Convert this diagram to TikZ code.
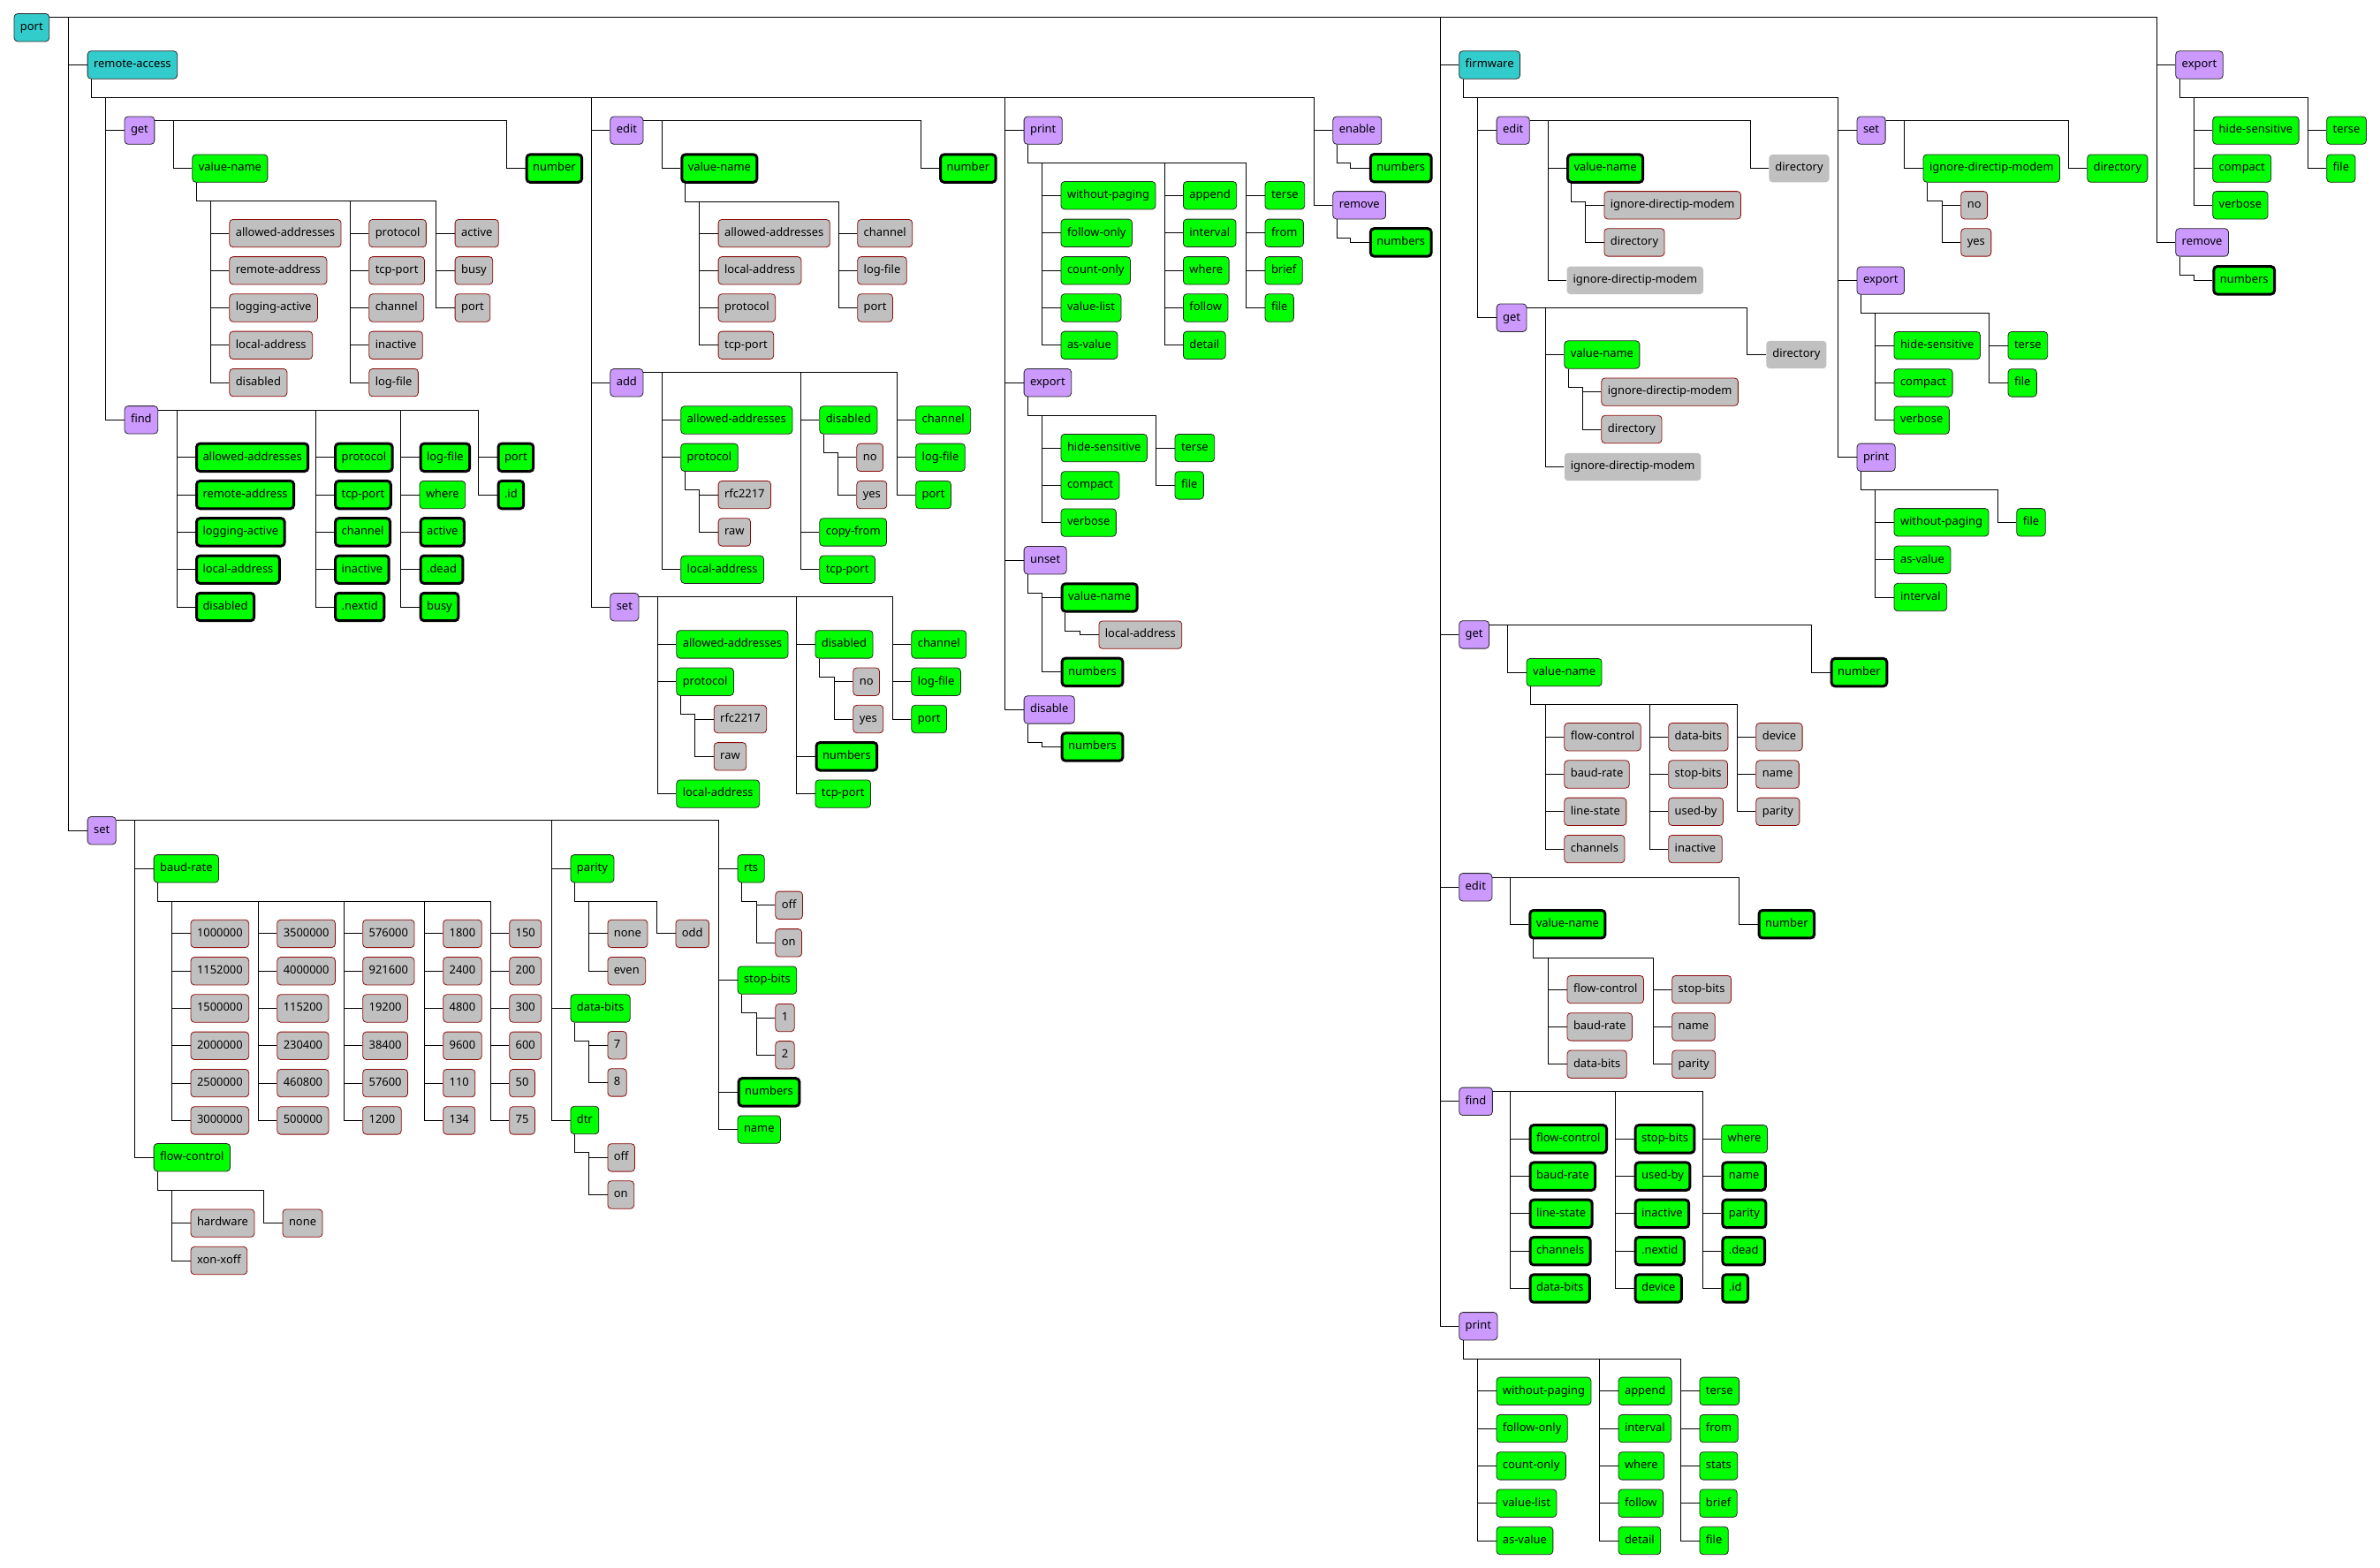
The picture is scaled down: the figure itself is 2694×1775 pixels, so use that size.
\documentclass[tikz,border=0pt]{standalone}
\usepackage{fontspec}
\setmainfont{Noto Sans}
\definecolor{cGrp}{RGB}{51,204,204}
\definecolor{cCmd}{RGB}{204,153,255}
\definecolor{cOpt}{RGB}{0,255,0}
\definecolor{cVal}{RGB}{192,192,192}
\definecolor{cValE}{RGB}{140,10,10}
\tikzset{
  box/.style={draw=black!85,line width=0.8pt,rounded corners=4pt,minimum height=31.4pt,
              inner xsep=7pt,inner ysep=0pt,text height=9.3pt,text depth=2.7pt,anchor=west,
              font=\fontsize{12.9pt}{15pt}\selectfont},
  grp/.style={box,fill=cGrp},
  cmd/.style={box,fill=cCmd},
  opt/.style={box,fill=cOpt},
  optB/.style={opt,draw=black,line width=3pt},
  val/.style={box,fill=cVal,draw=cValE},
  valN/.style={box,fill=cVal,draw=none},% no border
  link/.style={-,black,line width=1pt},
}

\begin{document}
\begin{tikzpicture}[x=1pt,y=-1pt]
  \useasboundingbox (0,0) rectangle (2694,1775);
  \newcommand{\slink}[2]{\draw[link] ([yshift=-4.8pt]#1.north east) -| ([xshift=-21pt]#2.west) -- (#2.west);}
  \newcommand{\dlink}[2]{\draw[link] ([xshift=4.9pt]#1.south west) -- ++(0,20.7) -| ([xshift=-21pt]#2.west) -- (#2.west);}
  \newcommand{\kids}[4]{\foreach \st/\nm/\yy/\tx in {#4}{
      \node[\st] (\nm) at (#3,\yy) {\tx};
      #1{#2}{\nm}}}

  \node[grp] (port) at (15.6,31.2) {port};
  \kids{\slink}{port}{98.7}{grp/ra/73.5/remote-access,cmd/pset/940.2/set}
  \kids{\slink}{port}{1651.3}{grp/fw/73.5/firmware,cmd/pget/718.4/get,cmd/pedit/1004.3/edit,cmd/pfind/1246.8/find,cmd/pprint/1501.3/print}
  \kids{\slink}{port}{2462.3}{cmd/pexp/73.5/export,cmd/prem/274.4/remove}

  % remote-access
  \kids{\dlink}{ra}{140.6}{cmd/raG/147.6/get,cmd/raF/475.3/find}
  \kids{\dlink}{ra}{690.4}{cmd/raE/147.6/edit,cmd/raA/433.2/add,cmd/raS/687.2/set}
  \kids{\dlink}{ra}{1158.7}{cmd/raP/147.6/print,cmd/raX/433.2/export,cmd/raU/634.2/unset,cmd/raD/803.4/disable}
  \kids{\dlink}{ra}{1508.4}{cmd/raN/147.6/enable,cmd/raR/232.3/remove}

  \kids{\slink}{raG}{217.4}{opt/raGv/190.6/value-name}
  \kids{\slink}{raG}{594.6}{optB/raGn/190.6/number}
  \kids{\dlink}{raGv}{259.4}{val/raGv1/264.1/allowed-addresses,val/raGv2/306.3/remote-address,val/raGv3/348.5/logging-active,val/raGv4/390.8/local-address,val/raGv5/433.1/disabled}
  \kids{\dlink}{raGv}{417.4}{val/raGv6/264.1/protocol,val/raGv7/306.3/tcp-port,val/raGv8/348.5/channel,val/raGv9/390.8/inactive,val/raGv10/433.1/log-file}
  \kids{\dlink}{raGv}{514.7}{val/raGv11/264.1/active,val/raGv12/306.3/busy,val/raGv13/348.5/port}

  \kids{\slink}{raF}{221}{optB/raF1/517.8/allowed-addresses,optB/raF2/560.1/remote-address,optB/raF3/602.4/logging-active,optB/raF4/644.7/local-address,optB/raF5/687/disabled}
  \kids{\slink}{raF}{378.1}{optB/raF6/517.8/protocol,optB/raF7/560.1/tcp-port,optB/raF8/602.4/channel,optB/raF9/644.7/inactive,optB/raF10/687/.nextid}
  \kids{\slink}{raF}{474.6}{optB/raF11/517.8/log-file,opt/raF12/560.1/where,optB/raF13/602.4/active,optB/raF14/644.7/.dead,optB/raF15/687/busy}
  \kids{\slink}{raF}{562.5}{optB/raF16/517.8/port,optB/raF17/560.1/.id}

  \kids{\slink}{raE}{770.3}{optB/raEv/190.6/value-name}
  \kids{\slink}{raE}{1063.1}{optB/raEn/190.6/number}
  \kids{\dlink}{raEv}{812.7}{val/raEv1/264.1/allowed-addresses,val/raEv2/306.3/local-address,val/raEv3/348.5/protocol,val/raEv4/390.8/tcp-port}
  \kids{\dlink}{raEv}{970.3}{val/raEv5/264.1/channel,val/raEv6/306.3/log-file,val/raEv7/348.5/port}

  \kids{\slink}{raA}{770.3}{opt/raA1/475.5/allowed-addresses,opt/raAp/517.8/protocol,opt/raA2/644.7/local-address}
  \kids{\slink}{raA}{927.4}{opt/raAd/475.5/disabled,opt/raA3/602.4/copy-from,opt/raA4/644.7/tcp-port}
  \kids{\slink}{raA}{1036.3}{opt/raA5/475.5/channel,opt/raA6/517.8/log-file,opt/raA7/560.1/port}
  \kids{\dlink}{raAp}{812.7}{val/raAp1/560.1/rfc2217,val/raAp2/602.4/raw}
  \kids{\dlink}{raAd}{969.4}{val/raAd1/517.8/no,val/raAd2/560.1/yes}

  \kids{\slink}{raS}{765.4}{opt/raS1/729.4/allowed-addresses,opt/raSp/771.7/protocol,opt/raS2/898.6/local-address}
  \kids{\slink}{raS}{922.5}{opt/raSd/729.4/disabled,optB/raS3/856.3/numbers,opt/raS4/898.6/tcp-port}
  \kids{\slink}{raS}{1031.4}{opt/raS5/729.4/channel,opt/raS6/771.7/log-file,opt/raS7/814/port}
  \kids{\dlink}{raSp}{807.8}{val/raSp1/814/rfc2217,val/raSp2/856.3/raw}
  \kids{\dlink}{raSd}{965.4}{val/raSd1/771.7/no,val/raSd2/814/yes}

  \kids{\dlink}{raP}{1200.6}{opt/raP1/221.2/without-paging,opt/raP2/263.8/follow-only,opt/raP3/306.3/count-only,opt/raP4/348.5/value-list,opt/raP5/390.8/as-value}
  \kids{\dlink}{raP}{1339}{opt/raP6/221.2/append,opt/raP7/263.8/interval,opt/raP8/306.3/where,opt/raP9/348.5/follow,opt/raP10/390.8/detail}
  \kids{\dlink}{raP}{1431.6}{opt/raP11/221.2/terse,opt/raP12/263.8/from,opt/raP13/306.3/brief,opt/raP14/348.5/file}
  \kids{\dlink}{raX}{1200.6}{opt/raX1/507.1/hide-sensitive,opt/raX2/549.4/compact,opt/raX3/591.6/verbose}
  \kids{\dlink}{raX}{1329.6}{opt/raX4/507.1/terse,opt/raX5/549.4/file}
  \kids{\dlink}{raU}{1200.6}{optB/raUv/676.5/value-name,optB/raU1/760.8/numbers}
  \kids{\dlink}{raUv}{1243.5}{val/raUv1/718.6/local-address}
  \kids{\dlink}{raD}{1200.6}{optB/raD1/845.5/numbers}
  \kids{\dlink}{raN}{1549.9}{optB/raN1/190.2/numbers}
  \kids{\dlink}{raR}{1549.9}{optB/raR1/274.4/numbers}

  % set
  \kids{\slink}{pset}{173.7}{opt/pbaud/983.3/baud-rate,opt/pflow/1310.2/flow-control}
  \kids{\slink}{pset}{645.5}{opt/ppar/983.3/parity,opt/pdata/1141.4/data-bits,opt/pdtr/1268/dtr}
  \kids{\slink}{pset}{834.6}{opt/prts/983.3/rts,opt/pstop/1109.6/stop-bits,optB/pset1/1236.4/numbers,opt/pset2/1278.6/name}
  \kids{\dlink}{pbaud}{215.6}{val/pb1/1056.9/1000000,val/pb2/1099.2/1152000,val/pb3/1141.5/1500000,val/pb4/1183.8/2000000,val/pb5/1226.1/2500000,val/pb6/1268.4/3000000}
  \kids{\dlink}{pbaud}{313.4}{val/pb7/1056.9/3500000,val/pb8/1099.2/4000000,val/pb9/1141.5/115200,val/pb10/1183.8/230400,val/pb11/1226.1/460800,val/pb12/1268.4/500000}
  \kids{\dlink}{pbaud}{410.3}{val/pb13/1056.9/576000,val/pb14/1099.2/921600,val/pb15/1141.5/19200,val/pb16/1183.8/38400,val/pb17/1226.1/57600,val/pb18/1268.4/1200}
  \kids{\dlink}{pbaud}{501.3}{val/pb19/1056.9/1800,val/pb20/1099.2/2400,val/pb21/1141.5/4800,val/pb22/1183.8/9600,val/pb23/1226.1/110,val/pb24/1268.4/134}
  \kids{\dlink}{pbaud}{576.3}{val/pb25/1056.9/150,val/pb26/1099.2/200,val/pb27/1141.5/300,val/pb28/1183.8/600,val/pb29/1226.1/50,val/pb30/1268.4/75}
  \kids{\dlink}{pflow}{215.6}{val/pflow1/1384.6/hardware,val/pflow2/1427/xon-xoff}
  \kids{\dlink}{pflow}{319.6}{val/pflow3/1384.6/none}
  \kids{\dlink}{ppar}{687.5}{val/ppar1/1056.9/none,val/ppar2/1099.2/even}
  \kids{\dlink}{ppar}{764.5}{val/ppar3/1056.9/odd}
  \kids{\dlink}{pdata}{687.5}{val/pdata1/1183.2/7,val/pdata2/1225.4/8}
  \kids{\dlink}{pdtr}{687.5}{val/pdtr1/1310.4/off,val/pdtr2/1352.5/on}
  \kids{\dlink}{prts}{877.4}{val/prts1/1024.8/off,val/prts2/1067.3/on}
  \kids{\dlink}{pstop}{877.4}{val/pstop1/1152.1/1,val/pstop2/1194.3/2}

  % firmware
  \kids{\dlink}{fw}{1693.7}{cmd/fwE/147.6/edit,cmd/fwG/359.7/get}
  \kids{\dlink}{fw}{2101.6}{cmd/fwS/147.6/set,cmd/fwX/317.6/export,cmd/fwP/517.8/print}
  \kids{\slink}{fwE}{1773.1}{optB/fwEv/190.6/value-name,valN/fwE1/317.3/ignore-directip-modem}
  \kids{\slink}{fwE}{2002}{valN/fwE2/190.6/directory}
  \kids{\dlink}{fwEv}{1815.5}{val/fwEv1/232.3/ignore-directip-modem,val/fwEv2/274.4/directory}
  \kids{\slink}{fwG}{1770.4}{opt/fwGv/401.5/value-name,valN/fwG1/528.5/ignore-directip-modem}
  \kids{\slink}{fwG}{1998.9}{valN/fwG2/401.5/directory}
  \kids{\dlink}{fwGv}{1812.4}{val/fwGv1/443.6/ignore-directip-modem,val/fwGv2/486/directory}
  \kids{\slink}{fwS}{2176.6}{opt/fwSi/190.6/ignore-directip-modem}
  \kids{\slink}{fwS}{2362.3}{opt/fwS1/190.6/directory}
  \kids{\dlink}{fwSi}{2219.4}{val/fwSi1/232.3/no,val/fwSi2/274.4/yes}
  \kids{\dlink}{fwX}{2143.6}{opt/fwX1/391.1/hide-sensitive,opt/fwX2/433.4/compact,opt/fwX3/475.6/verbose}
  \kids{\dlink}{fwX}{2272.6}{opt/fwX4/391.1/terse,opt/fwX5/433.4/file}
  \kids{\dlink}{fwP}{2143.6}{opt/fwP1/591.3/without-paging,opt/fwP2/633.7/as-value,opt/fwP3/676/interval}
  \kids{\dlink}{fwP}{2282.4}{opt/fwP4/591.3/file}

  % export, remove
  \kids{\dlink}{pexp}{2504.3}{opt/pexp1/147.6/hide-sensitive,opt/pexp2/190.6/compact,opt/pexp3/232.3/verbose}
  \kids{\dlink}{pexp}{2633.3}{opt/pexp4/147.6/terse,opt/pexp5/190.6/file}
  \kids{\dlink}{prem}{2504.3}{optB/prem1/317.3/numbers}

  % get, edit, find, print
  \kids{\slink}{pget}{1727.6}{opt/pgetv/761.1/value-name}
  \kids{\slink}{pget}{2071.7}{optB/pget1/761.1/number}
  \kids{\dlink}{pgetv}{1770.4}{val/pgv1/834.2/flow-control,val/pgv2/876.5/baud-rate,val/pgv3/918.8/line-state,val/pgv4/961.1/channels}
  \kids{\dlink}{pgetv}{1888.3}{val/pgv5/834.2/data-bits,val/pgv6/876.5/stop-bits,val/pgv7/918.8/used-by,val/pgv8/961.1/inactive}
  \kids{\dlink}{pgetv}{1987.4}{val/pgv9/834.2/device,val/pgv10/876.5/name,val/pgv11/918.8/parity}

  \kids{\slink}{pedit}{1730.3}{optB/peditv/1046.2/value-name}
  \kids{\slink}{pedit}{1989.6}{optB/pedit1/1046.2/number}
  \kids{\dlink}{peditv}{1773.6}{val/pev1/1120.1/flow-control,val/pev2/1162.4/baud-rate,val/pev3/1204.7/data-bits}
  \kids{\dlink}{peditv}{1892.3}{val/pev4/1120.1/stop-bits,val/pev5/1162.4/name,val/pev6/1204.7/parity}

  \kids{\slink}{pfind}{1730.6}{optB/pf1/1289.3/flow-control,optB/pf2/1331.6/baud-rate,optB/pf3/1373.9/line-state,optB/pf4/1416.2/channels,optB/pf5/1458.5/data-bits}
  \kids{\slink}{pfind}{1849.6}{optB/pf6/1289.3/stop-bits,optB/pf7/1331.6/used-by,optB/pf8/1373.9/inactive,optB/pf9/1416.2/.nextid,optB/pf10/1458.5/device}
  \kids{\slink}{pfind}{1948.3}{opt/pf11/1289.3/where,optB/pf12/1331.6/name,optB/pf13/1373.9/parity,optB/pf14/1416.2/.dead,optB/pf15/1458.5/.id}

  \kids{\dlink}{pprint}{1693.5}{opt/pp1/1574.8/without-paging,opt/pp2/1617.1/follow-only,opt/pp3/1659.4/count-only,opt/pp4/1701.7/value-list,opt/pp5/1744/as-value}
  \kids{\dlink}{pprint}{1831.6}{opt/pp6/1574.8/append,opt/pp7/1617.1/interval,opt/pp8/1659.4/where,opt/pp9/1701.7/follow,opt/pp10/1744/detail}
  \kids{\dlink}{pprint}{1923.5}{opt/pp11/1574.8/terse,opt/pp12/1617.1/from,opt/pp13/1659.4/stats,opt/pp14/1701.7/brief,opt/pp15/1744/file}
\end{tikzpicture}
\end{document}
